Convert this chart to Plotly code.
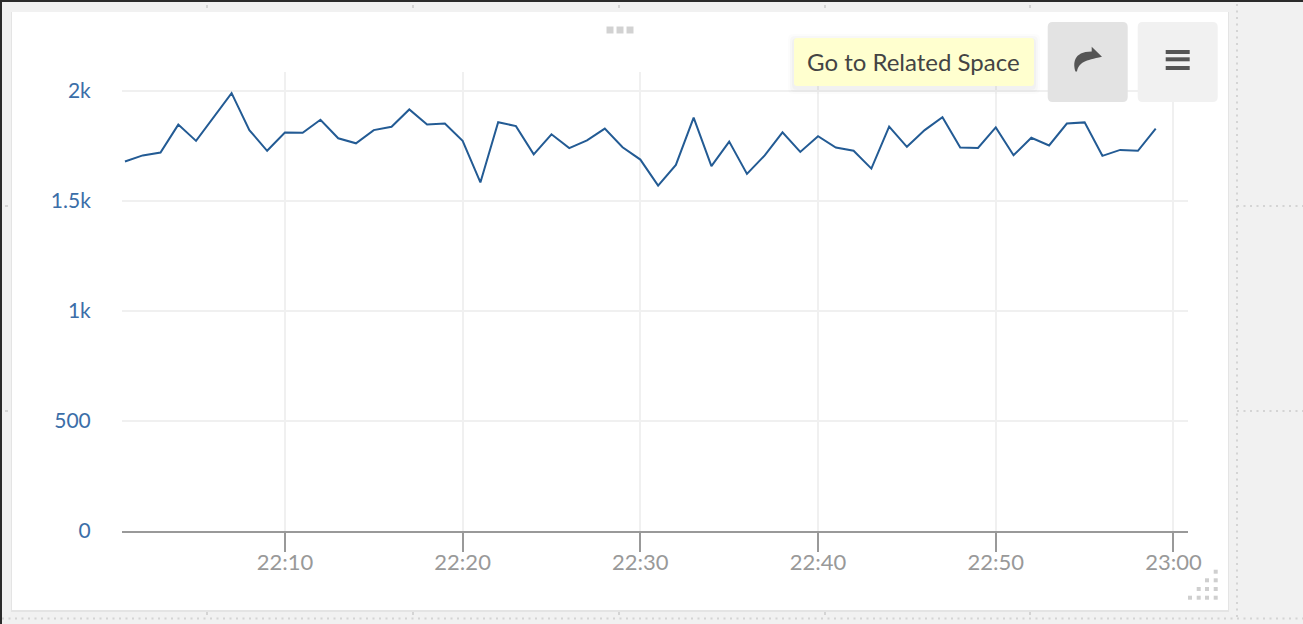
import pandas as pd
import plotly.graph_objects as go

W, H = 1303, 624

minutes = list(range(1, 60))
values = [1677, 1705, 1718, 1845, 1771, 1880, 1988, 1820, 1726, 1809,
          1808, 1867, 1783, 1760, 1820, 1835, 1914, 1845, 1850, 1771,
          1582, 1856, 1838, 1710, 1801, 1738, 1773, 1827, 1742, 1686,
          1568, 1662, 1877, 1656, 1768, 1621, 1705, 1810, 1721, 1792,
          1741, 1726, 1645, 1836, 1744, 1820, 1879, 1741, 1739, 1832,
          1706, 1785, 1750, 1850, 1855, 1703, 1730, 1726, 1827]
y_ticks = [0, 500, 1000, 1500, 2000]
y_labels = ["0", "500", "1k", "1.5k", "2k"]
tooltip_text = "Go to Related Space"

times = pd.Timestamp("2020-01-01 22:00") + pd.to_timedelta(minutes, unit="min")


def X(p):
    return p / W


def Y(p):
    return 1 - p / H


def rect(x0, y0, x1, y1, color, layer="below", opacity=1):
    return dict(type="rect", xref="paper", yref="paper", x0=X(x0), x1=X(x1), y0=Y(y0), y1=Y(y1),
                fillcolor=color, line_width=0, layer=layer, opacity=opacity)


def path(d, color, layer="above", opacity=1):
    s = ""
    for cmd, pts in d:
        s += cmd + " ".join(f"{X(a):.5f},{Y(b):.5f}" for a, b in pts) + " "
    return dict(type="path", xref="paper", yref="paper", path=s + "Z", fillcolor=color,
                line_width=0, layer=layer, opacity=opacity)


def rrect(x0, y0, x1, y1, r, color, layer="above", opacity=1):
    return path([("M", [(x0 + r, y0)]), ("L", [(x1 - r, y0)]), ("Q", [(x1, y0), (x1, y0 + r)]),
                 ("L", [(x1, y1 - r)]), ("Q", [(x1, y1), (x1 - r, y1)]),
                 ("L", [(x0 + r, y1)]), ("Q", [(x0, y1), (x0, y1 - r)]),
                 ("L", [(x0, y0 + r)]), ("Q", [(x0, y0), (x0 + r, y0)])], color, layer, opacity)


def dotted(x0, y0, x1, y1):
    return dict(type="line", xref="paper", yref="paper", x0=X(x0), x1=X(x1), y0=Y(y0), y1=Y(y1),
                line=dict(color="#d4d4d4", width=2, dash="2px,4.5px"), layer="below")


shapes = [
    rect(0, 0, W, 2, "#2b2b2b"),
    rect(0, 0, 2, H, "#2b2b2b"),
    dotted(2, 618.5, W, 618.5),
    dotted(1237, 4, 1237, 618),
    dotted(1237, 206, W, 206),
    dotted(1237, 411, W, 411),
    rect(11, 12, 1229, 612, "#e4e4e4"),
    rect(12, 12, 1228, 610, "#ffffff"),
]
for mx in (207, 413, 619, 825, 1030):
    shapes.append(rect(mx - 1, 5, mx + 1, 8, "#d4d4d4"))
    shapes.append(rect(mx - 1, 612, mx + 1, 615, "#d4d4d4"))
for my in (206, 411):
    shapes.append(rect(5, my - 1, 8, my + 1, "#d4d4d4"))
# drag handle
for hx in (610, 620, 630):
    shapes.append(rect(hx - 3.5, 26.5, hx + 3.5, 33.5, "#d2d2d2"))
# resize handle
for row, yy in enumerate((597.7, 589, 580.3, 571.7)):
    for xx in (1190, 1198.7, 1207, 1215.7)[row:]:
        shapes.append(rect(xx - 2, yy - 2, xx + 2, yy + 2, "#cfcfcf"))
# buttons
shapes.append(rrect(1047.7, 22, 1127.7, 102, 5, "#e3e3e3"))
shapes.append(rrect(1137.7, 22, 1217.7, 102, 5, "#f1f1f1"))
shapes.append(path([("M", [(1091.7, 46.7)]), ("L", [(1102, 56.7), (1091.7, 66.5), (1091.7, 60.5)]),
                    ("C", [(1085, 60.5), (1079, 62), (1077, 71.5)]),
                    ("L", [(1075.5, 71.5)]),
                    ("C", [(1073, 64), (1073, 51.5), (1091.7, 51.5)])], "#555555"))
for a, b in ((50, 54), (57.3, 61.3), (66, 70)):
    shapes.append(rect(1165.7, a, 1189.7, b, "#555555", layer="above"))
# tooltip
for grow, op in ((6, 0.012), (4, 0.018), (2, 0.025)):
    shapes.append(rrect(794 - grow, 38 - grow + 2, 1034 + grow, 86 + grow + 2, 5, "#000000", opacity=op))
shapes.append(path([("M", [(1033, 51)]), ("L", [(1043.5, 61.7), (1033, 72)])], "#ffffcf"))
shapes.append(rrect(794, 38, 1034, 86, 3, "#ffffcf"))

fig = go.Figure(go.Scatter(x=times, y=values, mode="lines",
                           line=dict(color="#235b94", width=2), hoverinfo="skip"))

fig.update_layout(
    width=W, height=H,
    margin=dict(l=0, r=0, t=0, b=0),
    paper_bgcolor="#f1f1f1", plot_bgcolor="rgba(0,0,0,0)",
    showlegend=False,
    font=dict(family="Lato, sans-serif"),
    shapes=shapes,
    annotations=[dict(xref="paper", yref="paper", x=X(804.5), y=Y(62), xanchor="left", yanchor="middle",
                      text=tooltip_text, showarrow=False,
                      font=dict(family="Lato, sans-serif", size=24, color="#444444"))],
    xaxis=dict(
        domain=[X(122), X(1188)],
        automargin=False,
        type="date",
        range=["2020-01-01 22:00:50", "2020-01-01 23:00:49"],
        tick0="2020-01-01 22:00:00", dtick=600000, tickformat="%H:%M",
        showgrid=True, gridcolor="#f0f0f0", gridwidth=2,
        showline=True, linecolor="#999999", linewidth=2,
        ticks="outside", ticklen=19, tickwidth=2, tickcolor="#999999",
        tickfont=dict(size=22, color="#999999"),
        ticklabelstandoff=-8,
    ),
    yaxis=dict(
        domain=[Y(530.5), Y(71.5)],
        automargin=False,
        range=[0, (531 - 72) / 0.22],
        tickmode="array", tickvals=y_ticks, ticktext=y_labels,
        showgrid=True, gridcolor="#f0f0f0", gridwidth=2,
        zeroline=False, showline=False,
        ticks="outside", ticklen=0, ticklabelstandoff=26,
        tickfont=dict(size=21, color="#3b6ea8"),
    ),
)

fig.write_html("out.html", config=dict(displayModeBar=False),
               post_script="document.body.style.margin='0';document.body.style.overflow='hidden';")
